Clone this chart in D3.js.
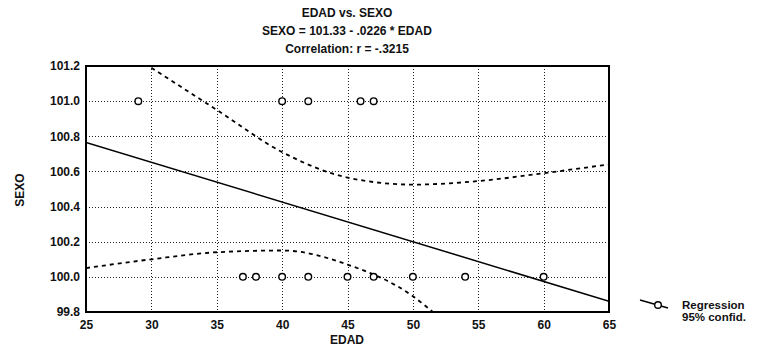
<!DOCTYPE html>
<html>
<head>
<meta charset="utf-8">
<script src="https://cdn.jsdelivr.net/npm/d3@7.9.0/dist/d3.min.js"></script>
<style>
  body { margin: 0; background: #fff; }
  svg { font-family: "Liberation Sans", Arial, sans-serif; }
  text { font-weight: bold; fill: #111; }
</style>
</head>
<body>
<svg width="771" height="349"></svg>
<script>
// data
const titleLines = ['EDAD vs. SEXO', 'SEXO = 101.33 - .0226 * EDAD', 'Correlation: r = -.3215'];
const xTicks = [25, 30, 35, 40, 45, 50, 55, 60, 65];
const yTicks = [99.8, 100.0, 100.2, 100.4, 100.6, 100.8, 101.0, 101.2];
const edad = [29, 40, 42, 46, 47, 37, 38, 40, 42, 45, 47, 50, 54, 60];
const sexo = [101, 101, 101, 101, 101, 100, 100, 100, 100, 100, 100, 100, 100, 100];
const regLine = [[25, 100.765], [65, 99.861]];
const upperBand = [[30, 101.19], [35, 100.95], [40, 100.71], [45, 100.565], [50, 100.525], [55, 100.545], [60, 100.59], [65, 100.64]];
const lowerBand = [[25, 100.05], [30, 100.10], [35, 100.14], [40, 100.15], [45, 100.07], [50, 99.89], [52, 99.77]];
const legendLabels = ['Regression', '95% confid.'];

const svg = d3.select('svg');
const pLeft = 86, pRight = 609, pTop = 66, pBottom = 312;

const x = d3.scaleLinear().domain([25, 65]).range([pLeft, pRight]);
const y = d3.scaleLinear().domain([99.8, 101.2]).range([pBottom, pTop]);
const crisp = v => Math.round(v) + 0.5;

// title
svg.selectAll('.title')
    .data(titleLines)
    .enter().append('text')
    .attr('x', 347)
    .attr('y', (d, i) => 17 + i * 18)
    .attr('text-anchor', 'middle')
    .attr('font-size', 12)
    .text(d => d);

// grid, dotted
const grid = svg.append('g')
    .attr('stroke', '#222')
    .attr('stroke-width', 1)
    .attr('stroke-dasharray', '1,2');
grid.selectAll('.gx').data(xTicks.slice(1, -1)).enter().append('line')
    .attr('x1', d => crisp(x(d))).attr('x2', d => crisp(x(d)))
    .attr('y1', pTop).attr('y2', pBottom);
grid.selectAll('.gy').data(yTicks.slice(1, -1)).enter().append('line')
    .attr('x1', pLeft).attr('x2', pRight)
    .attr('y1', d => crisp(y(d))).attr('y2', d => crisp(y(d)));

// clip for curves
svg.append('clipPath').attr('id', 'clip')
    .append('rect')
    .attr('x', pLeft).attr('y', pTop)
    .attr('width', pRight - pLeft).attr('height', pBottom - pTop);

const line = d3.line().x(d => x(d[0])).y(d => y(d[1]));
const curve = d3.line().x(d => x(d[0])).y(d => y(d[1])).curve(d3.curveMonotoneX);

const plot = svg.append('g').attr('clip-path', 'url(#clip)');

plot.append('path')
    .attr('d', line(regLine))
    .attr('fill', 'none')
    .attr('stroke', '#000')
    .attr('stroke-width', 1.5);

[upperBand, lowerBand].forEach(band => {
    plot.append('path')
        .attr('d', curve(band))
        .attr('fill', 'none')
        .attr('stroke', '#000')
        .attr('stroke-width', 1.8)
        .attr('stroke-dasharray', '4,4');
});

// points
svg.selectAll('.pt')
    .data(edad)
    .enter().append('circle')
    .attr('cx', d => x(d))
    .attr('cy', (d, i) => y(sexo[i]))
    .attr('r', 3.3)
    .attr('fill', '#fff')
    .attr('stroke', '#000')
    .attr('stroke-width', 1.4);

// frame
svg.append('rect')
    .attr('x', pLeft).attr('y', pTop)
    .attr('width', pRight - pLeft).attr('height', pBottom - pTop)
    .attr('fill', 'none')
    .attr('stroke', '#000')
    .attr('stroke-width', 2);

// axes
const xAxis = svg.append('g')
    .attr('transform', `translate(0,${pBottom})`)
    .call(d3.axisBottom(x).tickValues(xTicks).tickSize(0).tickPadding(8).tickFormat(d3.format('d')));
const yAxis = svg.append('g')
    .attr('transform', `translate(${pLeft},0)`)
    .call(d3.axisLeft(y).tickValues(yTicks).tickSize(0).tickPadding(6).tickFormat(d3.format('.1f')));
[xAxis, yAxis].forEach(a => {
    a.select('.domain').remove();
    a.selectAll('text')
        .attr('font-size', 12)
        .attr('font-family', '"Liberation Sans", Arial, sans-serif')
        .attr('font-weight', 'bold')
        .attr('fill', '#111');
});

// axis titles
svg.append('text')
    .attr('x', 347).attr('y', 344)
    .attr('text-anchor', 'middle')
    .attr('font-size', 12)
    .text('EDAD');
svg.append('text')
    .attr('transform', 'translate(24,190) rotate(-90)')
    .attr('text-anchor', 'middle')
    .attr('font-size', 12)
    .text('SEXO');

// legend
const lg = svg.append('g');
lg.append('line')
    .attr('x1', 640).attr('y1', 300)
    .attr('x2', 668).attr('y2', 308)
    .attr('stroke', '#000').attr('stroke-width', 1.4);
lg.append('circle')
    .attr('cx', 658).attr('cy', 305).attr('r', 3.3)
    .attr('fill', '#fff').attr('stroke', '#000').attr('stroke-width', 1.4);
lg.selectAll('.lt')
    .data(legendLabels)
    .enter().append('text')
    .attr('x', 682)
    .attr('y', (d, i) => 309 + i * 12)
    .attr('font-size', 11.5)
    .text(d => d);
</script>
</body>
</html>
